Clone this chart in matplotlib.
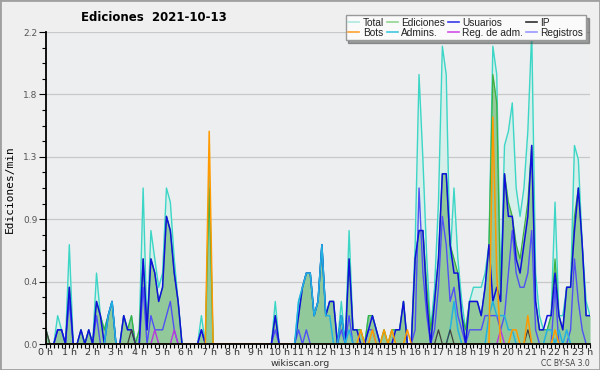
import numpy as np
import matplotlib
matplotlib.use("Agg")
import matplotlib.pyplot as plt
from matplotlib.lines import Line2D
from matplotlib.patches import Rectangle

# valores cada 10 minutos, de 0:00 a 23:20 (ediciones/min)
total = [0.1, 0, 0, 0.2, 0.1, 0, 0.7, 0, 0, 0.1, 0, 0.1,
         0, 0.5, 0.2, 0.1, 0.2, 0.3, 0, 0, 0.2, 0.1, 0.2, 0,
         0.1, 1.1, 0.1, 0.8, 0.6, 0.4, 0.5, 1.1, 1.0, 0.6, 0.3, 0,
         0, 0, 0, 0, 0.2, 0, 1.2, 0, 0, 0, 0, 0,
         0, 0, 0, 0, 0, 0, 0, 0, 0, 0, 0, 0.3,
         0, 0, 0, 0, 0, 0.3, 0.4, 0.5, 0.5, 0.2, 0.3, 0.7,
         0.2, 0.3, 0.3, 0, 0.3, 0, 0.8, 0.1, 0.1, 0.1, 0, 0.2,
         0.2, 0.1, 0, 0.1, 0, 0.1, 0.1, 0.1, 0.3, 0, 0, 0.7,
         1.9, 1.3, 0.6, 0.1, 0.4, 1.0, 2.1, 1.9, 0.6, 1.1, 0.6, 0.3,
         0.1, 0.3, 0.4, 0.4, 0.4, 0.5, 0.7, 2.1, 1.9, 0.4, 1.4, 1.5,
         1.7, 1.1, 0.9, 1.1, 1.5, 2.2, 0.5, 0.2, 0.1, 0.1, 0.2, 1.0,
         0.2, 0.2, 0.4, 0.4, 1.4, 1.3, 0.7, 0.3, 0.2]
ediciones = [0.1, 0, 0, 0.1, 0.1, 0, 0.4, 0, 0, 0.1, 0, 0.1,
             0, 0.3, 0.2, 0.1, 0.2, 0.3, 0, 0, 0.2, 0.1, 0.2, 0,
             0.1, 0.6, 0.1, 0.6, 0.5, 0.3, 0.4, 0.9, 0.8, 0.5, 0.3, 0,
             0, 0, 0, 0, 0.1, 0, 1.1, 0, 0, 0, 0, 0,
             0, 0, 0, 0, 0, 0, 0, 0, 0, 0, 0, 0.2,
             0, 0, 0, 0, 0, 0.2, 0.4, 0.5, 0.5, 0.2, 0.3, 0.7,
             0.2, 0.3, 0.3, 0, 0.2, 0, 0.6, 0.1, 0.1, 0.1, 0, 0.2,
             0.2, 0.1, 0, 0.1, 0, 0.1, 0.1, 0.1, 0.3, 0, 0, 0.6,
             0.8, 0.8, 0.4, 0.1, 0.3, 0.6, 1.2, 1.2, 0.7, 0.6, 0.5, 0.2,
             0.1, 0.3, 0.3, 0.3, 0.2, 0.4, 0.7, 1.9, 1.7, 0.3, 1.2, 1.0,
             0.9, 0.7, 0.6, 0.8, 1.0, 1.4, 0.3, 0.1, 0.1, 0.1, 0.2, 0.6,
             0.2, 0.1, 0.4, 0.4, 0.9, 1.1, 0.7, 0.2, 0.2]
usuarios = [0, 0, 0, 0.1, 0.1, 0, 0.4, 0, 0, 0.1, 0, 0.1,
            0, 0.3, 0.2, 0, 0.2, 0.3, 0, 0, 0.2, 0.1, 0.1, 0,
            0, 0.6, 0.1, 0.6, 0.5, 0.3, 0.4, 0.9, 0.8, 0.5, 0.3, 0,
            0, 0, 0, 0, 0.1, 0, 0, 0, 0, 0, 0, 0,
            0, 0, 0, 0, 0, 0, 0, 0, 0, 0, 0, 0.2,
            0, 0, 0, 0, 0, 0.2, 0.4, 0.5, 0.5, 0.2, 0.3, 0.7,
            0.2, 0.3, 0.3, 0, 0.2, 0, 0.6, 0.1, 0.1, 0, 0, 0.1,
            0.2, 0.1, 0, 0, 0, 0, 0.1, 0.1, 0.3, 0, 0, 0.6,
            0.8, 0.8, 0.3, 0, 0.3, 0.6, 1.2, 1.2, 0.7, 0.5, 0.5, 0.2,
            0, 0.3, 0.3, 0.3, 0.2, 0.4, 0.7, 0.3, 0.4, 0.3, 1.2, 0.9,
            0.9, 0.6, 0.5, 0.7, 0.9, 1.4, 0.3, 0.1, 0.1, 0.2, 0.2, 0.5,
            0.2, 0.1, 0.4, 0.4, 0.8, 1.1, 0.7, 0.2, 0.2]
ip = [0.1, 0, 0, 0, 0, 0, 0, 0, 0, 0, 0, 0,
      0, 0, 0, 0, 0, 0, 0, 0, 0, 0, 0.1, 0,
      0, 0, 0, 0, 0, 0, 0, 0, 0, 0, 0, 0,
      0, 0, 0, 0, 0, 0, 0, 0, 0, 0, 0, 0,
      0, 0, 0, 0, 0, 0, 0, 0, 0, 0, 0, 0,
      0, 0, 0, 0, 0, 0, 0, 0, 0, 0, 0, 0,
      0, 0, 0, 0, 0, 0, 0, 0, 0, 0, 0, 0,
      0, 0, 0, 0, 0, 0, 0, 0, 0, 0, 0, 0,
      0, 0, 0, 0, 0, 0.1, 0, 0, 0.1, 0, 0, 0,
      0, 0, 0, 0, 0, 0, 0, 0, 0, 0, 0, 0,
      0, 0, 0, 0, 0.1, 0, 0, 0, 0, 0, 0, 0,
      0, 0, 0, 0, 0, 0, 0, 0, 0]
bots = [0, 0, 0, 0, 0, 0, 0, 0, 0, 0, 0, 0,
        0, 0, 0, 0, 0, 0, 0, 0, 0, 0, 0, 0,
        0, 0, 0, 0, 0, 0, 0, 0, 0, 0, 0, 0,
        0, 0, 0, 0, 0, 0, 1.5, 0, 0, 0, 0, 0,
        0, 0, 0, 0, 0, 0, 0, 0, 0, 0, 0, 0,
        0, 0, 0, 0, 0, 0, 0, 0, 0, 0, 0, 0,
        0, 0, 0, 0, 0, 0, 0, 0, 0, 0.1, 0, 0,
        0.1, 0, 0, 0.1, 0, 0.1, 0, 0, 0, 0.1, 0, 0,
        0, 0, 0, 0, 0, 0, 0, 0, 0, 0, 0, 0,
        0, 0, 0, 0, 0, 0, 0, 1.6, 0.5, 0, 0, 0,
        0.1, 0.1, 0, 0, 0.2, 0, 0, 0, 0, 0, 0, 0.1,
        0, 0, 0, 0, 0, 0, 0, 0, 0]
admins = [0, 0, 0, 0, 0, 0, 0, 0, 0, 0, 0, 0,
          0, 0, 0, 0, 0.2, 0.3, 0, 0, 0, 0, 0, 0,
          0, 0, 0, 0, 0, 0, 0, 0, 0, 0, 0, 0,
          0, 0, 0, 0, 0, 0, 0, 0, 0, 0, 0, 0,
          0, 0, 0, 0, 0, 0, 0, 0, 0, 0, 0, 0,
          0, 0, 0, 0, 0, 0.3, 0.4, 0.5, 0.5, 0.2, 0.3, 0.7,
          0.2, 0.2, 0, 0, 0.2, 0, 0.1, 0, 0, 0, 0, 0,
          0, 0, 0, 0, 0, 0, 0, 0, 0, 0, 0, 0,
          0, 0, 0, 0, 0, 0, 0, 0, 0.1, 0.3, 0.1, 0,
          0, 0, 0, 0, 0, 0, 0.2, 0.3, 0.2, 0.2, 0.2, 0.1,
          0.1, 0, 0, 0, 0, 0, 0, 0, 0, 0.1, 0.1, 0,
          0.1, 0, 0.1, 0, 0, 0, 0, 0, 0]
reg_adm = [0, 0, 0, 0, 0, 0, 0, 0, 0, 0, 0, 0,
           0, 0, 0, 0, 0, 0, 0, 0, 0, 0, 0, 0,
           0, 0, 0, 0, 0.1, 0, 0, 0, 0, 0.1, 0, 0,
           0, 0, 0, 0, 0, 0, 0, 0, 0, 0, 0, 0,
           0, 0, 0, 0, 0, 0, 0, 0, 0, 0, 0, 0,
           0, 0, 0, 0, 0, 0, 0, 0, 0, 0, 0, 0,
           0, 0, 0, 0, 0, 0, 0, 0, 0, 0, 0, 0,
           0, 0, 0, 0, 0, 0, 0, 0, 0, 0, 0, 0,
           0, 0, 0, 0, 0, 0, 0, 0, 0, 0, 0, 0,
           0, 0, 0, 0, 0, 0, 0, 0, 0, 0.1, 0, 0,
           0, 0, 0, 0, 0, 0, 0, 0, 0, 0, 0, 0,
           0, 0, 0, 0, 0, 0, 0, 0, 0]
registros = [0, 0, 0, 0.1, 0.1, 0, 0.3, 0, 0, 0, 0, 0,
             0, 0.2, 0, 0, 0, 0, 0, 0, 0, 0, 0, 0,
             0, 0.4, 0, 0.2, 0.1, 0.1, 0.1, 0.2, 0.3, 0.1, 0, 0,
             0, 0, 0, 0, 0.1, 0, 0, 0, 0, 0, 0, 0,
             0, 0, 0, 0, 0, 0, 0, 0, 0, 0, 0, 0.1,
             0, 0, 0, 0, 0, 0.1, 0, 0.1, 0, 0, 0, 0,
             0, 0, 0, 0, 0.1, 0, 0.2, 0, 0, 0, 0, 0.1,
             0.1, 0, 0, 0, 0, 0, 0, 0, 0, 0, 0, 0.1,
             1.1, 0.5, 0.2, 0, 0.1, 0.4, 0.9, 0.7, 0.3, 0.4, 0.2, 0.1,
             0, 0.1, 0.1, 0.1, 0.1, 0.2, 0.2, 0.2, 0.2, 0.1, 0.2, 0.5,
             0.8, 0.5, 0.4, 0.4, 0.5, 0.8, 0.1, 0, 0, 0, 0, 0.4,
             0, 0, 0, 0.1, 0.6, 0.3, 0.1, 0, 0]

horas = [f"{h} h" for h in range(24)]
y_etiquetas = ["0.0", "0.4", "0.9", "1.3", "1.8", "2.2"]

x = np.arange(len(total)) / 6.0

fig = plt.figure(figsize=(6, 3.7), dpi=100, facecolor="#efefef")
ax = fig.add_axes([46 / 600, 26 / 370, 544 / 600, 312 / 370])
ax.set_facecolor("#edeef0")

ax.fill_between(x, total, color="#d6efea", lw=0)
ax.fill_between(x, ediciones, color="#92c99a", lw=0)
ax.plot(x, total, color="#3cd6c6", lw=1.0)
ax.plot(x, ediciones, color="#3cb040", lw=0.9)
ax.plot(x, registros, color="#5050f5", lw=1.0)
ax.plot(x, usuarios, color="#1010dd", lw=1.1)
ax.plot(x, admins, color="#22b2e2", lw=1.1)
ax.plot(x, ip, color="#404040", lw=0.9)
ax.plot(x, reg_adm, color="#b838e0", lw=1.0)
ax.plot(x, bots, color="#ff9a00", lw=1.1)

ax.set_xlim(0, x[-1])
ax.set_ylim(0, 2.2)
ax.set_xticks(range(24))
ax.set_xticklabels(horas)
ax.set_xticks(np.arange(0, x[-1] + 0.01, 1 / 6), minor=True)
ax.set_yticks(np.linspace(0, 2.2, 6))
ax.set_yticklabels(y_etiquetas)
ax.set_yticks(np.arange(0, 2.21, 0.11), minor=True)
ax.tick_params(axis="x", which="both", length=3, width=0.8, pad=0,
               labelsize=6.8, labelcolor="#333333")
ax.tick_params(axis="y", which="major", length=5, width=0.8, pad=1,
               labelsize=6.5, labelcolor="#555555")
ax.tick_params(axis="y", which="minor", length=3, width=0.8)
ax.grid(axis="y", which="major", color="#c8c8c8", lw=0.9)
ax.set_axisbelow(True)
for s in ["top", "right"]:
    ax.spines[s].set_visible(False)
for s in ["left", "bottom"]:
    ax.spines[s].set_linewidth(1.3)

fig.text(0.257, 0.952, "Ediciones  2021-10-13", ha="center", va="center",
         fontsize=8.5, fontweight="bold")
fig.text(0.017, 0.489, "Ediciones/min", rotation=90, ha="center", va="center",
         fontsize=8, family="DejaVu Sans Mono")
fig.text(0.5, 0.018, "wikiscan.org", ha="center", va="center", fontsize=6.8,
         color="#333333")
fig.text(0.983, 0.018, "CC BY-SA 3.0", ha="right", va="center", fontsize=5.5,
         color="#444444")

nombres = ["Total", "Bots", "Ediciones", "Admins.", "Usuarios", "Reg. de adm.",
           "IP", "Registros"]
colores = ["#aee8e0", "#ffa030", "#90d890", "#40c8e0", "#3838e8", "#d050e8",
           "#303030", "#9898ff"]
handles = [Line2D([], [], color=c, lw=1.2) for c in colores]
fig.legend(handles, nombres, ncol=4, loc="upper right",
           bbox_to_anchor=(0.985, 0.972), handlelength=1.1,
           prop={"family": "Liberation Sans", "size": 7.3},
           handletextpad=0.35, columnspacing=0.25, labelspacing=0.0,
           borderpad=0.25, fancybox=False, shadow=True, framealpha=1,
           edgecolor="#999999", facecolor="#fafafa", labelcolor="#222222")

fig.patches.append(Rectangle((0, 0), 1, 1, transform=fig.transFigure,
                             fill=False, edgecolor="#a0a0a0", lw=2))

fig.savefig("out.png", dpi=100, facecolor=fig.get_facecolor())
